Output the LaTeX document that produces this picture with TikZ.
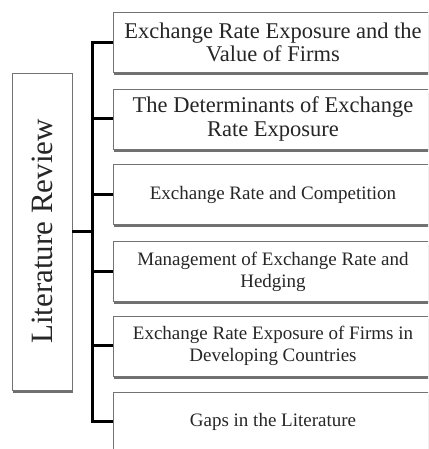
\documentclass[tikz,border=0pt]{standalone}
\usepackage{fontspec}
\setmainfont{Liberation Serif}
\usetikzlibrary{shadows}
\begin{document}
\begin{tikzpicture}[x=1pt,y=1pt,
  boxbase/.style={draw=black!55, line width=0.8pt, fill=white, inner sep=0pt,
    align=center, text=black!85,
    drop shadow={shadow xshift=0.8pt, shadow yshift=-2.8pt, opacity=0.7, fill=black!80}},
  topic/.style={boxbase, minimum width=320pt, minimum height=60pt},
  bigtopic/.style={topic, font=\fontsize{22.5}{23.5}\selectfont},
  smalltopic/.style={topic, font=\fontsize{19}{22}\selectfont},
  rootbox/.style={boxbase, minimum width=60pt, minimum height=317pt,
    font=\fontsize{31}{34}\selectfont},
  conn/.style={draw=black, line width=3pt, line join=miter}]
\useasboundingbox (0,0) rectangle (428,449);
\clip (0,0) rectangle (428,449);

% root box with vertical title
\node[rootbox] (lit) at (42,217.5) {\rotatebox{90}{Literature Review}};

% topic boxes, running off the right and bottom edges
\node[bigtopic]   (b1) at (273,406.5) {Exchange Rate Exposure and the\\Value of Firms};
\node[bigtopic]   (b2) at (273,330)   {The Determinants of Exchange\\Rate Exposure};
\node[smalltopic] (b3) at (273,254.5) {Exchange Rate and Competition};
\node[smalltopic] (b4) at (273,177.5) {Management of Exchange Rate and\\Hedging};
\node[smalltopic] (b5) at (273,103)   {Exchange Rate Exposure of Firms in\\Developing Countries};
\node[smalltopic] (b6) at (273,27)    {Gaps in the Literature};

% bracket connectors
\coordinate (trunk) at (92,0);
\draw[conn] (b1.west) -- (b1.west -| trunk) -- (b6.west -| trunk) -- (b6.west);
\foreach \i in {2,...,5} \draw[conn] (b\i.west) -- (b\i.west -| trunk);
\draw[conn] (lit.east) -- (lit.east -| trunk);
\end{tikzpicture}
\end{document}
